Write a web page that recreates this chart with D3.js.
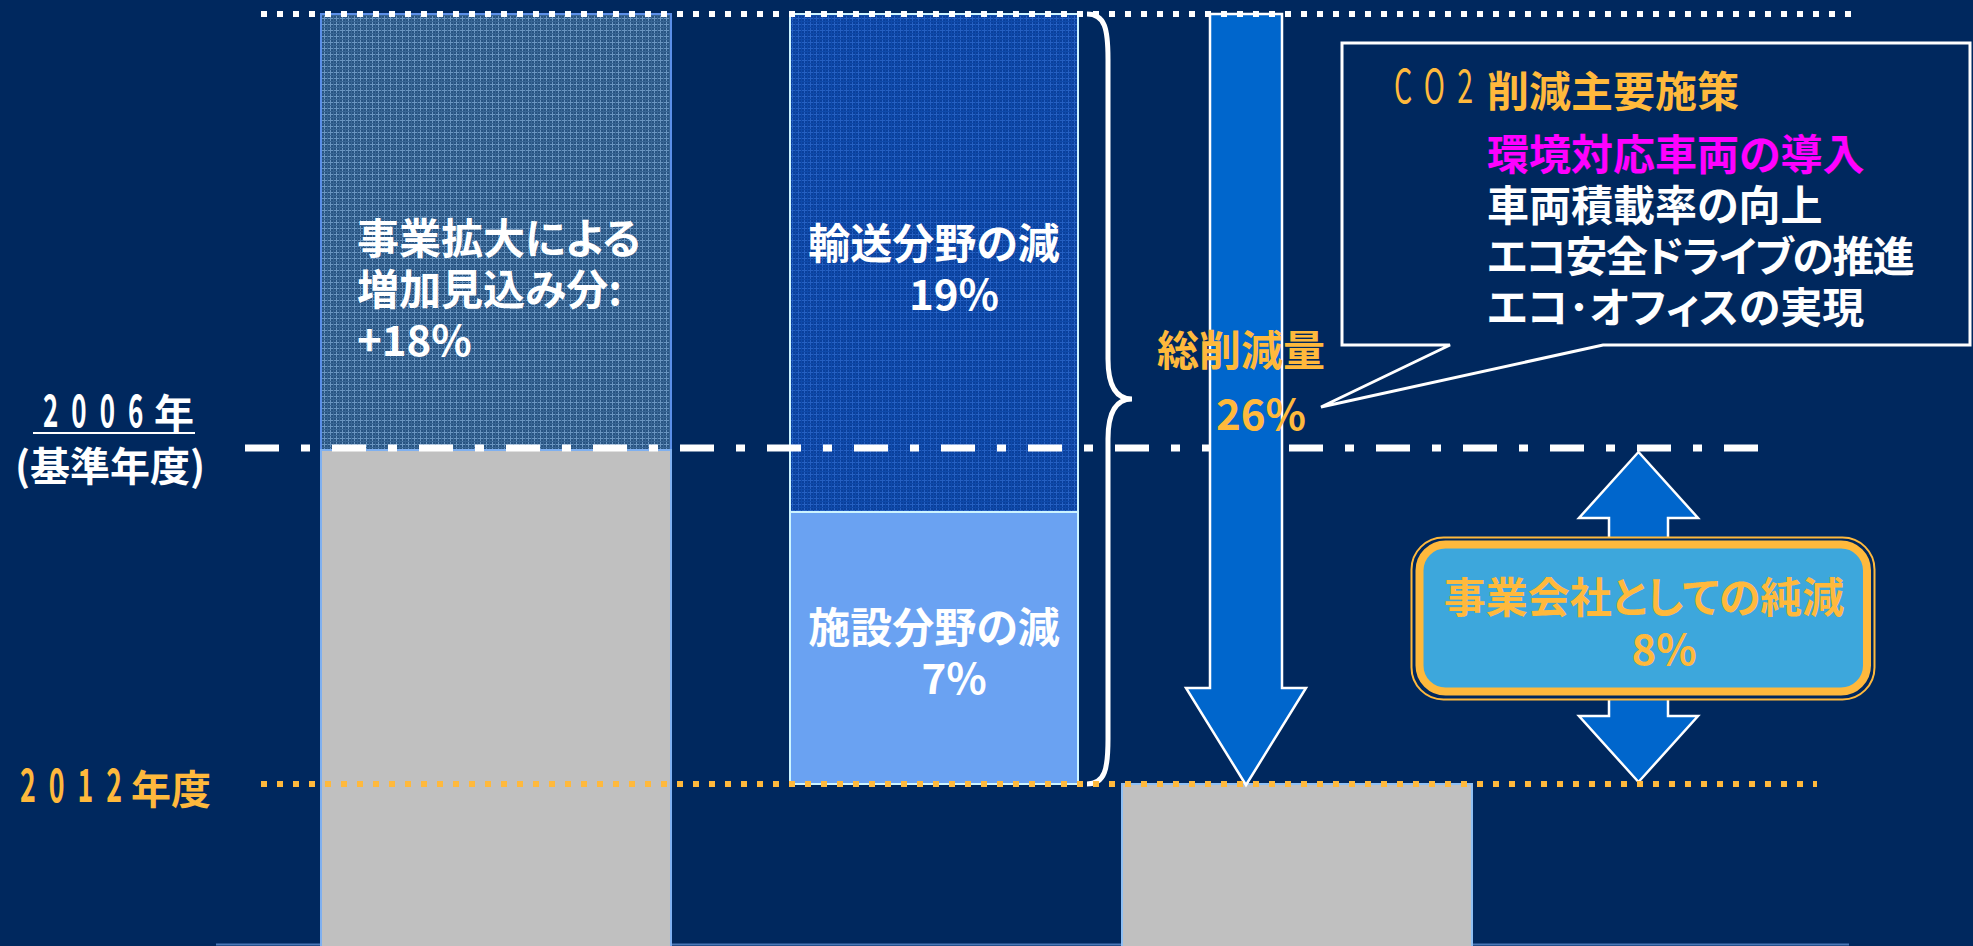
<!DOCTYPE html>
<html>
<head>
<meta charset="utf-8">
<script src="https://cdn.jsdelivr.net/npm/d3@7"></script>
<style>
html, body { margin: 0; padding: 0; background: #00285e; overflow: hidden; }
svg { display: block; }
text { font-family: 'Noto Sans CJK JP', 'Noto Sans', sans-serif; font-feature-settings: "palt"; }
</style>
</head>
<body>
<div id="chart"></div>
<script>
// index values, 2006 = 100
var baseLevel = 100;
var growth = 18;
var cutValues = [19, 7];
var totalCut = 26;
var netCut = 8;

var growthLines = ["事業拡大による", "増加見込み分:", "+18%"];
var cutNames = ["輸送分野の減", "施設分野の減"];
var cutPct = ["19%", "7%"];
var totalLabel = ["総削減量", "26%"];
var netLabel = ["事業会社としての純減", "8%"];
var measureTitle = ["CO2", "削減主要施策"];
var measures = ["環境対応車両の導入", "車両積載率の向上", "エコ安全ドライブの推進", "エコ･オフィスの実現"];
var measureColors = ["#ff00ff", "#ffffff", "#ffffff", "#ffffff"];
var yearLabels = [["2006", "年", "(基準年度)"], ["2012", "年度"]];

var W = 1973, H = 946;
var orange = "#ffb93c";

var topLevel = baseLevel + growth;             // 118
var midLevel = topLevel - cutValues[0];         // 99
var endLevel = topLevel - totalCut;             // 92

// the picture is not drawn to scale: piecewise scale
var y = d3.scaleLinear()
    .domain([0, endLevel, midLevel, baseLevel, topLevel])
    .range([H, 784, 512, 450, 14]);

var col = d3.scaleOrdinal()
    .domain(["base", "steps", "total", "after", "net"])
    .range([[321, 671], [790, 1078], [1210, 1282], [1122, 1472], [1609, 1668]]);

var svg = d3.select("#chart").append("svg")
    .attr("width", W).attr("height", H);

svg.append("rect").attr("width", W).attr("height", H).attr("fill", "#00285e");

var defs = svg.append("defs");

function grid(id, base, line, line2) {
    var p = defs.append("pattern").attr("id", id)
        .attr("width", 6).attr("height", 6)
        .attr("patternUnits", "userSpaceOnUse");
    p.append("rect").attr("width", 6).attr("height", 6).attr("fill", base);
    p.append("rect").attr("width", 6).attr("height", 1).attr("fill", line);
    p.append("rect").attr("width", 1).attr("height", 6).attr("fill", line);
    p.append("rect").attr("x", 3).attr("width", 1).attr("height", 6).attr("fill", line2);
    p.append("rect").attr("y", 3).attr("width", 6).attr("height", 1).attr("fill", line2);
}
grid("gridA", "#285482", "#6a95c0", "#396694");
grid("gridB", "#0a409c", "#2560c2", "#0f4aaa");

// bottom line
svg.append("line")
    .attr("x1", 216).attr("x2", 1849).attr("y1", H - 1.5).attr("y2", H - 1.5)
    .attr("stroke", "#4a78b8").attr("stroke-width", 2);

// left column: base + growth
var cb = col("base");
svg.append("rect")
    .attr("x", cb[0]).attr("y", y(topLevel))
    .attr("width", cb[1] - cb[0]).attr("height", y(baseLevel) - y(topLevel))
    .attr("fill", "url(#gridA)").attr("stroke", "#5b8fe8").attr("stroke-width", 2);
svg.append("rect")
    .attr("x", cb[0]).attr("y", y(baseLevel))
    .attr("width", cb[1] - cb[0]).attr("height", y(0) - y(baseLevel) + 2)
    .attr("fill", "#c0c0c0").attr("stroke", "#7fb0f0").attr("stroke-width", 2);

// middle column: reductions
var cs = col("steps");
var cutTops = [topLevel, midLevel];
svg.selectAll("rect.cut").data(cutValues).enter().append("rect")
    .attr("class", "cut")
    .attr("x", cs[0])
    .attr("y", function(d, i) { return y(cutTops[i]); })
    .attr("width", cs[1] - cs[0])
    .attr("height", function(d, i) { return y(cutTops[i] - d) - y(cutTops[i]); })
    .attr("fill", function(d, i) { return i == 0 ? "url(#gridB)" : "#6aa2f2"; })
    .attr("stroke", "#ccf4ff").attr("stroke-width", 2);

// right column: 2012
var ca = col("after");
svg.append("rect")
    .attr("x", ca[0]).attr("y", y(baseLevel - netCut))
    .attr("width", ca[1] - ca[0]).attr("height", y(0) - y(baseLevel - netCut) + 2)
    .attr("fill", "#c0c0c0").attr("stroke", "#8fc0f4").attr("stroke-width", 2);

// 2006 baseline, dash-dot
svg.append("line")
    .attr("x1", 245).attr("x2", 1774)
    .attr("y1", y(baseLevel) - 2).attr("y2", y(baseLevel) - 2)
    .attr("stroke", "#ffffff").attr("stroke-width", 7)
    .attr("stroke-dasharray", "34,22,9,22");

// brace
var bTop = y(topLevel), bBot = y(endLevel), bMid = (bTop + bBot) / 2;
var bx = cs[1] + 9;
svg.append("path")
    .attr("d", "M" + bx + "," + bTop +
        " C" + (bx + 18) + "," + bTop + " " + (bx + 21) + "," + (bTop + 15) + " " + (bx + 21) + "," + (bTop + 45) +
        " L" + (bx + 21) + "," + (bMid - 40) +
        " C" + (bx + 21) + "," + (bMid - 12) + " " + (bx + 30) + "," + bMid + " " + (bx + 45) + "," + bMid +
        " C" + (bx + 30) + "," + bMid + " " + (bx + 21) + "," + (bMid + 12) + " " + (bx + 21) + "," + (bMid + 40) +
        " L" + (bx + 21) + "," + (bBot - 45) +
        " C" + (bx + 21) + "," + (bBot - 15) + " " + (bx + 18) + "," + bBot + " " + bx + "," + bBot)
    .attr("fill", "none").attr("stroke", "#ffffff").attr("stroke-width", 5);

// total reduction arrow
var ct = col("total");
var headLen = 97, headOut = 24;
var tipX = (ct[0] + ct[1]) / 2;
var aTop = y(topLevel), aTip = y(endLevel) + 1, aHead = aTip - headLen;
svg.append("polygon")
    .attr("points", [
        [ct[0], aTop], [ct[1], aTop], [ct[1], aHead], [ct[1] + headOut, aHead],
        [tipX, aTip], [ct[0] - headOut, aHead], [ct[0], aHead]
    ].join(" "))
    .attr("fill", "#0066cc").attr("stroke", "#ffffff").attr("stroke-width", 2.5);

// net reduction double arrow
var cn = col("net");
var nx = (cn[0] + cn[1]) / 2, nOut = 30, nHead = 66;
var nTop = y(baseLevel) + 2, nBot = y(baseLevel - netCut) - 2;
svg.append("polygon")
    .attr("points", [
        [nx, nTop], [cn[1] + nOut, nTop + nHead], [cn[1], nTop + nHead], [cn[1], nBot - nHead],
        [cn[1] + nOut, nBot - nHead], [nx, nBot], [cn[0] - nOut, nBot - nHead], [cn[0], nBot - nHead],
        [cn[0], nTop + nHead], [cn[0] - nOut, nTop + nHead]
    ].join(" "))
    .attr("fill", "#0066cc").attr("stroke", "#ffffff").attr("stroke-width", 2.5);

// dotted level lines
svg.append("line")
    .attr("x1", 261).attr("x2", 1854).attr("y1", y(topLevel)).attr("y2", y(topLevel))
    .attr("stroke", "#ffffff").attr("stroke-width", 6).attr("stroke-dasharray", "6,10");
svg.append("line")
    .attr("x1", 261).attr("x2", 1817).attr("y1", y(endLevel)).attr("y2", y(endLevel))
    .attr("stroke", orange).attr("stroke-width", 6).attr("stroke-dasharray", "6,10");

// callout box
svg.append("path")
    .attr("d", "M1342,43 H1970 V345 H1603 L1321,407 L1450,345 H1342 Z")
    .attr("fill", "#00285e").attr("stroke", "#ffffff").attr("stroke-width", 3);

// net box
svg.append("rect")
    .attr("x", 1411.5).attr("y", 537.5).attr("width", 463).attr("height", 162).attr("rx", 32)
    .attr("fill", "#00285e").attr("stroke", orange).attr("stroke-width", 2);
svg.append("rect")
    .attr("x", 1419.5).attr("y", 544.5).attr("width", 447.5).attr("height", 147).attr("rx", 26)
    .attr("fill", "#3da7dc").attr("stroke", orange).attr("stroke-width", 8);

// texts
function txt(x, yy, s, o) {
    o = o || {};
    return svg.append("text")
        .attr("x", x).attr("y", yy)
        .attr("dominant-baseline", "central")
        .attr("text-anchor", o.anchor || "start")
        .attr("font-size", o.size || 42)
        .attr("font-weight", 700)
        .attr("letter-spacing", o.ls || 0)
        .attr("fill", o.fill || "#ffffff")
        .text(s);
}
// condensed digits (baseline at yy)
function narrow(x, yy, s, fill, size, sx, ls, wt) {
    svg.append("text")
        .attr("transform", "translate(" + x + "," + yy + ") scale(" + sx + ",1)")
        .attr("font-family", "'Liberation Sans', Arial, sans-serif")
        .attr("font-size", size).attr("font-weight", wt || 700)
        .attr("letter-spacing", ls)
        .attr("fill", fill)
        .text(s);
}

growthLines.forEach(function(s, i) {
    txt(357, 235 + i * 51, s);
});

var cx = (cs[0] + cs[1]) / 2;
cutNames.forEach(function(s, i) {
    var c = [240, 624][i];
    txt(cx, c, s, {anchor: "middle"});
    txt(cx + 20, c + 51, cutPct[i], {anchor: "middle"});
});

txt(tipX - 5, 347, totalLabel[0], {anchor: "middle", fill: orange});
txt(tipX + 15, 411, totalLabel[1], {anchor: "middle", fill: orange});

txt(1644, 594, netLabel[0], {anchor: "middle", fill: orange});
txt(1664, 646, netLabel[1], {anchor: "middle", fill: orange});

narrow(1394, 103, measureTitle[0], orange, 46, 0.62, 20, 400);
txt(1487, 88, measureTitle[1], {fill: orange});
measures.forEach(function(s, i) {
    txt(1487, 151 + i * 51, s, {fill: measureColors[i], ls: i == 2 ? -1.5 : 0});
});

// year labels
narrow(43, 427, yearLabels[0][0], "#ffffff", 44.7, 0.58, 22.5);
txt(154, 411, yearLabels[0][1], {size: 40});
svg.append("line")
    .attr("x1", 33).attr("x2", 195).attr("y1", 433).attr("y2", 433)
    .attr("stroke", "#ffffff").attr("stroke-width", 2);
txt(15, 464, yearLabels[0][2], {size: 40});

narrow(20, 802, yearLabels[1][0], orange, 46, 0.58, 22.5);
txt(131, 787, yearLabels[1][1], {size: 40, fill: orange});
</script>
</body>
</html>
